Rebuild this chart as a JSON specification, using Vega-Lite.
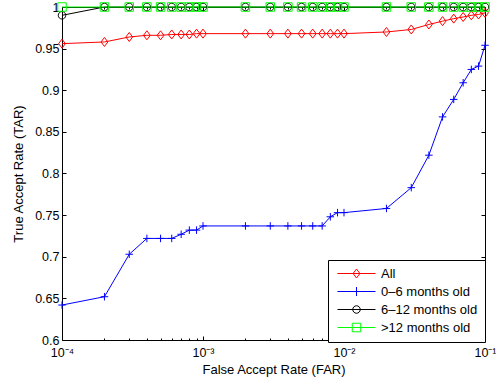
{
  "$schema": "https://vega.github.io/schema/vega-lite/v6.json",
  "width": 423,
  "height": 333,
  "autosize": "none",
  "padding": {"left": 62, "top": 7, "right": 11, "bottom": 42},
  "background": "white",
  "config": {
    "view": {"stroke": "black", "strokeWidth": 1},
    "font": "Liberation Sans",
    "axis": {
      "domain": false, "grid": false,
      "labelFont": "Liberation Sans", "labelFontSize": 12.5, "labelColor": "black",
      "tickColor": "black", "tickWidth": 1,
      "titleFont": "Liberation Sans", "titleFontSize": 13, "titleFontWeight": "normal", "titleColor": "black"
    },
    "legend": {
      "orient": "none", "legendX": 266, "legendY": 253,
      "title": null,
      "strokeColor": "black", "fillColor": "white", "cornerRadius": 0,
      "padding": 7, "rowPadding": 4,
      "labelFont": "Liberation Sans", "labelFontSize": 13, "labelColor": "black",
      "symbolSize": 100, "symbolStrokeWidth": 1, "symbolOpacity": 1, "symbolFillColor": "transparent",
      "symbolOffset": 15, "labelOffset": 18
    }
  },
  "data": {"values": [
    {"s":"All","far":0.0001,"tar":0.956},{"s":"All","far":0.0002,"tar":0.958},{"s":"All","far":0.0003,"tar":0.964},{"s":"All","far":0.0004,"tar":0.966},{"s":"All","far":0.0005,"tar":0.966},{"s":"All","far":0.0006,"tar":0.967},{"s":"All","far":0.0007,"tar":0.967},{"s":"All","far":0.0008,"tar":0.967},{"s":"All","far":0.0009,"tar":0.968},{"s":"All","far":0.001,"tar":0.968},{"s":"All","far":0.002,"tar":0.968},{"s":"All","far":0.003,"tar":0.968},{"s":"All","far":0.004,"tar":0.968},{"s":"All","far":0.005,"tar":0.968},{"s":"All","far":0.006,"tar":0.968},{"s":"All","far":0.007,"tar":0.968},{"s":"All","far":0.008,"tar":0.968},{"s":"All","far":0.009,"tar":0.968},{"s":"All","far":0.01,"tar":0.968},{"s":"All","far":0.02,"tar":0.970},{"s":"All","far":0.03,"tar":0.973},{"s":"All","far":0.04,"tar":0.979},{"s":"All","far":0.05,"tar":0.983},{"s":"All","far":0.06,"tar":0.986},{"s":"All","far":0.07,"tar":0.988},{"s":"All","far":0.08,"tar":0.990},{"s":"All","far":0.09,"tar":0.991},{"s":"All","far":0.1,"tar":0.993},
    {"s":"0–6 months old","far":0.0001,"tar":0.642},{"s":"0–6 months old","far":0.0002,"tar":0.652},{"s":"0–6 months old","far":0.0003,"tar":0.703},{"s":"0–6 months old","far":0.0004,"tar":0.722},{"s":"0–6 months old","far":0.0005,"tar":0.722},{"s":"0–6 months old","far":0.0006,"tar":0.722},{"s":"0–6 months old","far":0.0007,"tar":0.727},{"s":"0–6 months old","far":0.0008,"tar":0.732},{"s":"0–6 months old","far":0.0009,"tar":0.732},{"s":"0–6 months old","far":0.001,"tar":0.737},{"s":"0–6 months old","far":0.002,"tar":0.737},{"s":"0–6 months old","far":0.003,"tar":0.737},{"s":"0–6 months old","far":0.004,"tar":0.737},{"s":"0–6 months old","far":0.005,"tar":0.737},{"s":"0–6 months old","far":0.006,"tar":0.737},{"s":"0–6 months old","far":0.007,"tar":0.737},{"s":"0–6 months old","far":0.008,"tar":0.748},{"s":"0–6 months old","far":0.009,"tar":0.753},{"s":"0–6 months old","far":0.01,"tar":0.753},{"s":"0–6 months old","far":0.02,"tar":0.758},{"s":"0–6 months old","far":0.03,"tar":0.783},{"s":"0–6 months old","far":0.04,"tar":0.822},{"s":"0–6 months old","far":0.05,"tar":0.868},{"s":"0–6 months old","far":0.06,"tar":0.889},{"s":"0–6 months old","far":0.07,"tar":0.909},{"s":"0–6 months old","far":0.08,"tar":0.925},{"s":"0–6 months old","far":0.09,"tar":0.929},{"s":"0–6 months old","far":0.1,"tar":0.954},
    {"s":"6–12 months old","far":0.0001,"tar":0.990},{"s":"6–12 months old","far":0.0002,"tar":1},{"s":"6–12 months old","far":0.0003,"tar":1},{"s":"6–12 months old","far":0.0004,"tar":1},{"s":"6–12 months old","far":0.0005,"tar":1},{"s":"6–12 months old","far":0.0006,"tar":1},{"s":"6–12 months old","far":0.0007,"tar":1},{"s":"6–12 months old","far":0.0008,"tar":1},{"s":"6–12 months old","far":0.0009,"tar":1},{"s":"6–12 months old","far":0.001,"tar":1},{"s":"6–12 months old","far":0.002,"tar":1},{"s":"6–12 months old","far":0.003,"tar":1},{"s":"6–12 months old","far":0.004,"tar":1},{"s":"6–12 months old","far":0.005,"tar":1},{"s":"6–12 months old","far":0.006,"tar":1},{"s":"6–12 months old","far":0.007,"tar":1},{"s":"6–12 months old","far":0.008,"tar":1},{"s":"6–12 months old","far":0.009,"tar":1},{"s":"6–12 months old","far":0.01,"tar":1},{"s":"6–12 months old","far":0.02,"tar":1},{"s":"6–12 months old","far":0.03,"tar":1},{"s":"6–12 months old","far":0.04,"tar":1},{"s":"6–12 months old","far":0.05,"tar":1},{"s":"6–12 months old","far":0.06,"tar":1},{"s":"6–12 months old","far":0.07,"tar":1},{"s":"6–12 months old","far":0.08,"tar":1},{"s":"6–12 months old","far":0.09,"tar":1},{"s":"6–12 months old","far":0.1,"tar":1},
    {"s":">12 months old","far":0.0001,"tar":1},{"s":">12 months old","far":0.0002,"tar":1},{"s":">12 months old","far":0.0003,"tar":1},{"s":">12 months old","far":0.0004,"tar":1},{"s":">12 months old","far":0.0005,"tar":1},{"s":">12 months old","far":0.0006,"tar":1},{"s":">12 months old","far":0.0007,"tar":1},{"s":">12 months old","far":0.0008,"tar":1},{"s":">12 months old","far":0.0009,"tar":1},{"s":">12 months old","far":0.001,"tar":1},{"s":">12 months old","far":0.002,"tar":1},{"s":">12 months old","far":0.003,"tar":1},{"s":">12 months old","far":0.004,"tar":1},{"s":">12 months old","far":0.005,"tar":1},{"s":">12 months old","far":0.006,"tar":1},{"s":">12 months old","far":0.007,"tar":1},{"s":">12 months old","far":0.008,"tar":1},{"s":">12 months old","far":0.009,"tar":1},{"s":">12 months old","far":0.01,"tar":1},{"s":">12 months old","far":0.02,"tar":1},{"s":">12 months old","far":0.03,"tar":1},{"s":">12 months old","far":0.04,"tar":1},{"s":">12 months old","far":0.05,"tar":1},{"s":">12 months old","far":0.06,"tar":1},{"s":">12 months old","far":0.07,"tar":1},{"s":">12 months old","far":0.08,"tar":1},{"s":">12 months old","far":0.09,"tar":1},{"s":">12 months old","far":0.1,"tar":1}
  ]},
  "layer": [
    {
      "mark": {"type": "line", "strokeWidth": 1},
      "encoding": {
        "x": {
          "field": "far", "type": "quantitative",
          "scale": {"type": "log", "domain": [0.0001, 0.1]},
          "axis": {
            "orient": "bottom",
            "title": "False Accept Rate (FAR)",
            "titlePadding": 3,
            "values": [0.0001,0.0002,0.0003,0.0004,0.0005,0.0006,0.0007,0.0008,0.0009,0.001,0.002,0.003,0.004,0.005,0.006,0.007,0.008,0.009,0.01,0.02,0.03,0.04,0.05,0.06,0.07,0.08,0.09,0.1],
            "tickSize": {"condition": {"test": "abs(log(datum.value)/LN10 - round(log(datum.value)/LN10)) < 1e-6", "value": -4}, "value": -2},
            "labelPadding": 10,
            "labelFlush": false,
            "labelOverlap": false,
            "labelExpr": "abs(log(datum.value)/LN10 - round(log(datum.value)/LN10)) < 1e-6 ? '10' + ['⁻⁴','⁻³','⁻²','⁻¹'][round(log(datum.value)/LN10)+4] : ''"
          }
        },
        "y": {
          "field": "tar", "type": "quantitative",
          "scale": {"domain": [0.6, 1]},
          "axis": {
            "orient": "left",
            "title": "True Accept Rate (TAR)",
            "titlePadding": 9,
            "values": [0.6,0.65,0.7,0.75,0.8,0.85,0.9,0.95,1],
            "format": "~g",
            "tickSize": -4,
            "labelPadding": 7
          }
        },
        "color": {
          "field": "s", "type": "nominal",
          "scale": {"domain": ["All","0–6 months old","6–12 months old",">12 months old"], "range": ["#ff0000","#0000ff","#000000","#00ff00"]}
        }
      }
    },
    {
      "transform": [{"filter": "datum.s === 'All'"}],
      "mark": {"type": "point", "filled": false, "size": 100, "strokeWidth": 1, "opacity": 1, "shape": "M0,-0.9L0.68,0L0,0.9L-0.68,0Z"},
      "encoding": {
        "x": {"field": "far", "type": "quantitative", "axis": null},
        "y": {"field": "tar", "type": "quantitative", "axis": null},
        "color": {"field": "s", "type": "nominal"}
      }
    },
    {
      "transform": [{"filter": "datum.s === '0–6 months old'"}],
      "mark": {"type": "point", "filled": false, "size": 100, "strokeWidth": 1, "opacity": 1, "shape": "M-0.75,0L0.75,0M0,-0.75L0,0.75"},
      "encoding": {
        "x": {"field": "far", "type": "quantitative", "axis": null},
        "y": {"field": "tar", "type": "quantitative", "axis": null},
        "color": {"field": "s", "type": "nominal"}
      }
    },
    {
      "transform": [{"filter": "datum.s === '6–12 months old'"}],
      "mark": {"type": "point", "filled": false, "size": 100, "strokeWidth": 1, "opacity": 1, "shape": "M0.75,0A0.75,0.75,0,1,1,-0.75,0A0.75,0.75,0,1,1,0.75,0"},
      "encoding": {
        "x": {"field": "far", "type": "quantitative", "axis": null},
        "y": {"field": "tar", "type": "quantitative", "axis": null},
        "color": {"field": "s", "type": "nominal"}
      }
    },
    {
      "transform": [{"filter": "datum.s === '>12 months old'"}],
      "mark": {"type": "point", "filled": false, "size": 100, "strokeWidth": 1, "opacity": 1, "shape": "M-0.85,-0.85L0.85,-0.85L0.85,0.85L-0.85,0.85Z"},
      "encoding": {
        "x": {"field": "far", "type": "quantitative", "axis": null},
        "y": {"field": "tar", "type": "quantitative", "axis": null},
        "color": {"field": "s", "type": "nominal"}
      }
    },
    {
      "mark": {"type": "point", "filled": false, "size": 100, "strokeWidth": 1, "opacity": 0},
      "encoding": {
        "x": {
          "field": "far", "type": "quantitative",
          "axis": {
            "orient": "top", "title": null, "labels": false,
            "values": [0.0001,0.0002,0.0003,0.0004,0.0005,0.0006,0.0007,0.0008,0.0009,0.001,0.002,0.003,0.004,0.005,0.006,0.007,0.008,0.009,0.01,0.02,0.03,0.04,0.05,0.06,0.07,0.08,0.09,0.1],
            "tickSize": {"condition": {"test": "abs(log(datum.value)/LN10 - round(log(datum.value)/LN10)) < 1e-6", "value": -4}, "value": -2}
          }
        },
        "y": {
          "field": "tar", "type": "quantitative",
          "axis": {"orient": "right", "title": null, "labels": false, "values": [0.6,0.65,0.7,0.75,0.8,0.85,0.9,0.95,1], "tickSize": -4}
        },
        "color": {"field": "s", "type": "nominal"},
        "shape": {
          "field": "s", "type": "nominal",
          "scale": {"domain": ["All","0–6 months old","6–12 months old",">12 months old"], "range": [
            "M-3.8,0L3.8,0M0,-0.9L0.68,0L0,0.9L-0.68,0Z",
            "M-3.8,0L3.8,0M0,-0.9L0,0.9",
            "M-3.8,0L3.8,0M0.75,0A0.75,0.75,0,1,1,-0.75,0A0.75,0.75,0,1,1,0.75,0",
            "M-3.8,0L3.8,0M-0.85,-0.85L0.85,-0.85L0.85,0.85L-0.85,0.85Z"
          ]}
        }
      }
    }
  ],
  "resolve": {"axis": {"x": "independent", "y": "independent"}}
}
